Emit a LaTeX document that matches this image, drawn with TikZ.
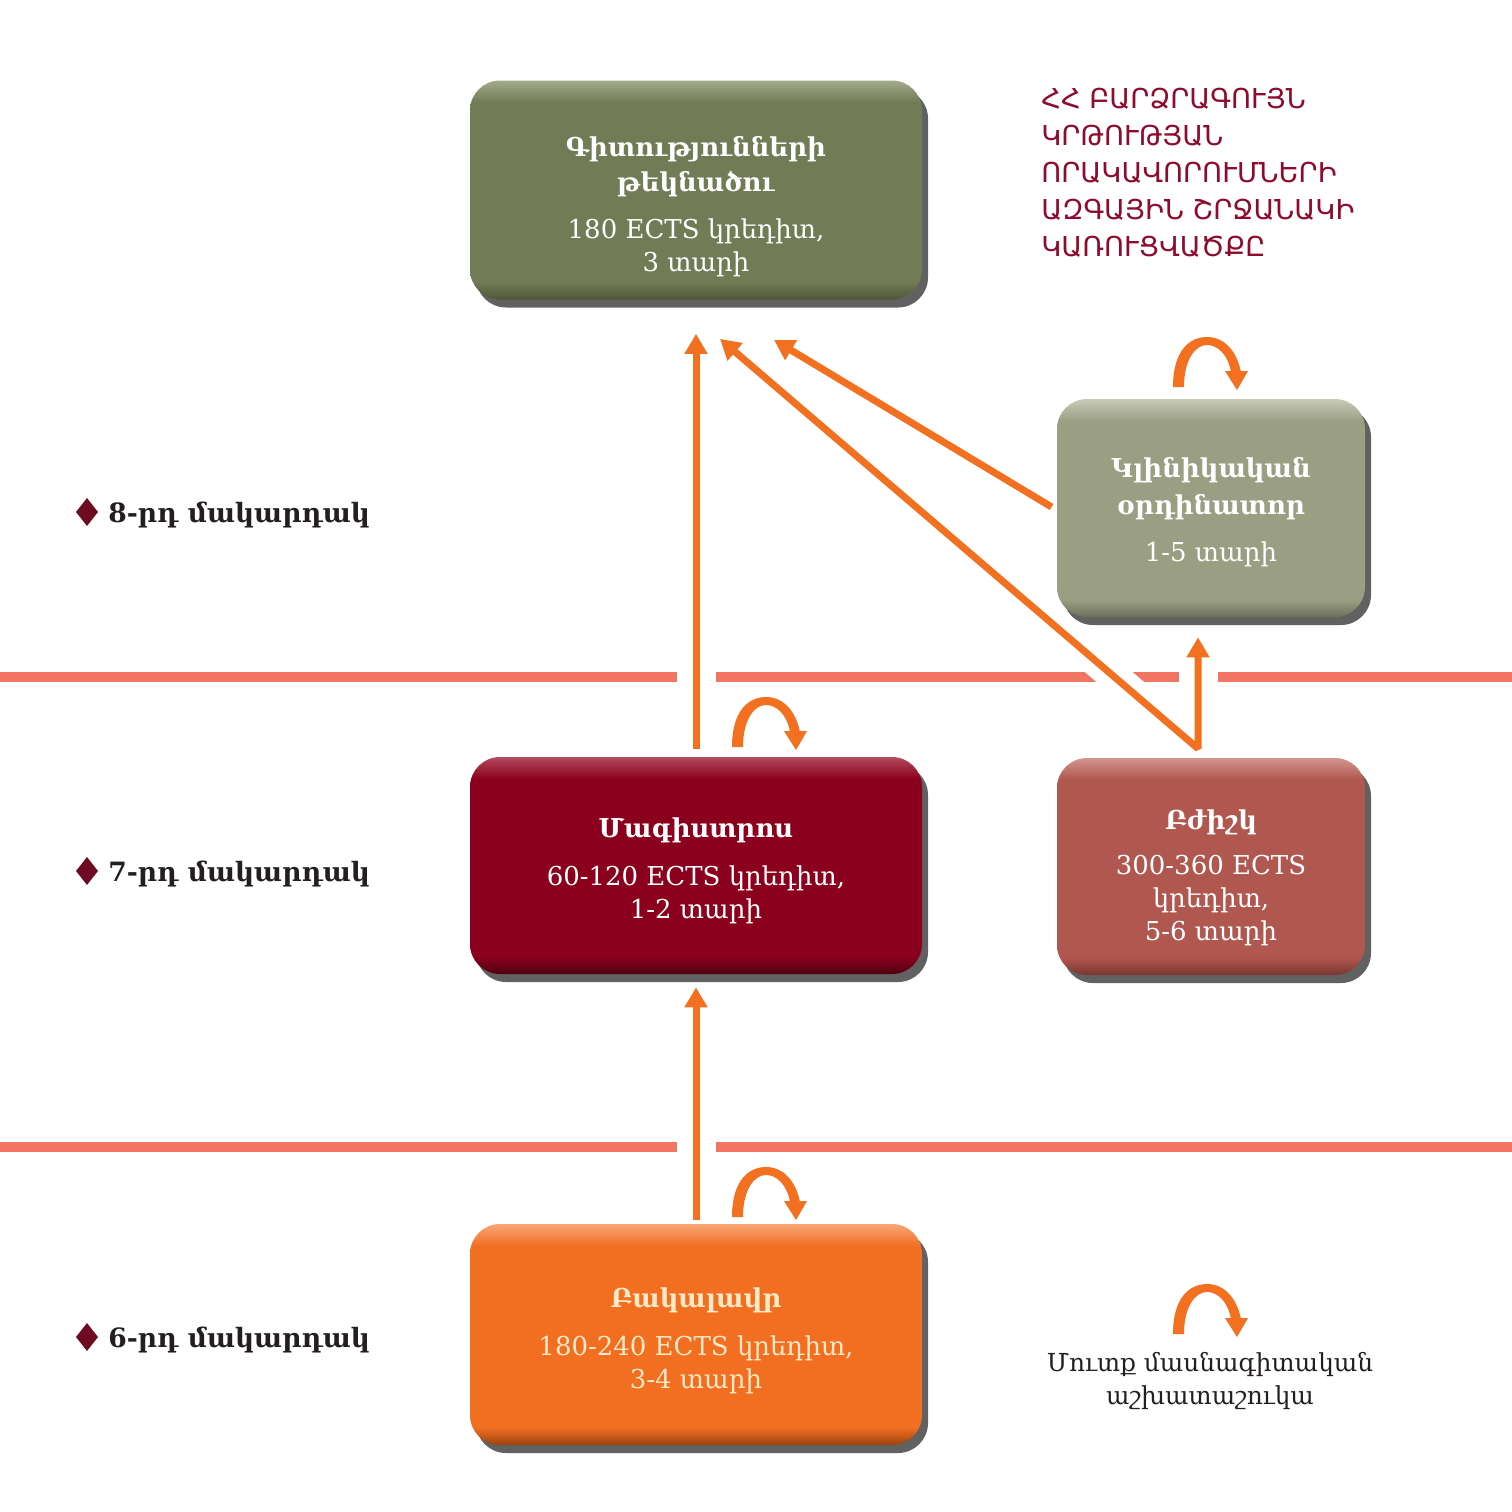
\documentclass[tikz,border=0pt]{standalone}
\usepackage{fontspec}
\setmainfont{DejaVu Serif}
\newfontfamily\hdrfont{DejaVu Sans}
\usetikzlibrary{arrows.meta,shadows}
\definecolor{arrorange}{HTML}{F37021}
\definecolor{lineclr}{HTML}{F27462}
\definecolor{gBase}{HTML}{717B56}\definecolor{gLight}{HTML}{A3AA8A}\definecolor{gDark}{HTML}{4E5637}
\definecolor{cBase}{HTML}{9A9F84}\definecolor{cLight}{HTML}{C8CBB8}\definecolor{cDark}{HTML}{6C705B}
\definecolor{mBase}{HTML}{8B001D}\definecolor{mLight}{HTML}{B24A60}\definecolor{mDark}{HTML}{4F0011}
\definecolor{dBase}{HTML}{B05750}\definecolor{dLight}{HTML}{D2948E}\definecolor{dDark}{HTML}{7A3530}
\definecolor{bBase}{HTML}{F26F22}\definecolor{bLight}{HTML}{F8A676}\definecolor{bDark}{HTML}{9A4210}
\definecolor{hdrclr}{HTML}{8E0B2D}
\definecolor{txtdark}{HTML}{231F20}
\definecolor{diaclr}{HTML}{6E0B22}
\definecolor{creamtxt}{HTML}{FFE9C6}
\newcommand\mkbevel[4]{\pgfdeclareverticalshading{#1}{100bp}{color(0bp)=(#4); color(25bp)=(#4); color(29bp)=(#3); color(70bp)=(#3); color(75bp)=(#2); color(100bp)=(#2)}}
\mkbevel{gbevel}{gLight}{gBase}{gDark}
\mkbevel{cbevel}{cLight}{cBase}{cDark}
\mkbevel{mbevel}{mLight}{mBase}{mDark}
\mkbevel{dbevel}{dLight}{dBase}{dDark}
\mkbevel{bbevel}{bLight}{bBase}{bDark}
\pgfdeclarelayer{bg}
\pgfsetlayers{bg,main}
\begin{document}
\begin{tikzpicture}[x=0.5pt,y=-0.5pt,
  box/.style={rounded corners=15pt, inner sep=0pt, shade,
    general shadow={fill=black!62, shadow xshift=3pt, shadow yshift=-4pt}},
  boxtext/.style={align=center, text=white, inner sep=0pt, font=\fontsize{13}{16.5}\selectfont},
  divline/.style={draw=lineclr, line width=5.25pt},
  knock/.style={draw=white, line width=19.5pt},
  arr/.style={draw=arrorange, line width=3.5pt, -{Triangle[length=10pt,width=11pt]}},
  lvl/.style={anchor=base west, text=txtdark, inner sep=0pt, font=\fontsize{13.3}{16}\selectfont\bfseries},
  dia/.style={fill=diaclr},
  turnarc/.pic={
    \fill[arrorange] (-34,50) .. controls (-34,13) and (-17,0) .. (0,0)
      .. controls (18,0) and (30,15) .. (34,35) -- (24,35)
      .. controls (21,18) and (11,8) .. (0,8)
      .. controls (-12,8) and (-23,23) .. (-23,50) -- cycle;
    \fill[arrorange] (18,34) -- (41,34) -- (30,53) -- cycle;
  }]
\useasboundingbox (0,0) rectangle (1512,1512);

% boxes
\node[box, shading=gbevel, minimum width=226pt, minimum height=109.5pt] (top) at (696,190) {};
\node[box, shading=cbevel, minimum width=154pt, minimum height=109pt] (clin) at (1211,508) {};
\node[box, shading=mbevel, minimum width=226pt, minimum height=108.5pt] (mag) at (696,865.5) {};
\node[box, shading=dbevel, minimum width=154pt, minimum height=108.5pt] (doc) at (1211,866.5) {};
\node[box, shading=bbevel, minimum width=226pt, minimum height=110.5pt] (bak) at (696,1334.5) {};

% box texts
\node[boxtext] (toptxt) at ([shift={(0,17)}]top.center)
  {\textbf{Գիտությունների}\\[1pt]\textbf{թեկնածու}\\[7pt]180 ECTS կրեդիտ,\\3 տարի};
\node[boxtext] (clintxt) at ([shift={(0,4)}]clin.center)
  {\textbf{Կլինիկական}\\[2pt]\textbf{օրդինատոր}\\[7pt]1-5 տարի};
\node[boxtext] (magtxt) at ([shift={(0,5)}]mag.center)
  {\textbf{Մագիստրոս}\\[7.5pt]60-120 ECTS կրեդիտ,\\1-2 տարի};
\node[boxtext] (doctxt) at ([shift={(0,11)}]doc.center)
  {\textbf{Բժիշկ}\\[6pt]300-360 ECTS\\կրեդիտ,\\5-6 տարի};
\node[boxtext, text=creamtxt] (baktxt) at ([shift={(0,6)}]bak.center)
  {\textbf{Բակալավր}\\[7.5pt]180-240 ECTS կրեդիտ,\\3-4 տարի};

\coordinate (dj) at ([shift={(-13,-9)}]doc.north);
\coordinate (topdiag) at ([shift={(24,39)}]top.south);
\coordinate (clinin) at ([shift={(-13,20)}]clin.south);

% divider lines with knock-outs
\begin{pgfonlayer}{bg}
\draw[divline] (0,677) -- (1512,677);
\draw[divline] (0,1147) -- (1512,1147);
\draw[knock] (mag.north) -- (top.south);
\draw[knock] (bak.north) -- (mag.south);
\draw[knock] (dj) -- (clinin);
\draw[knock, line width=15.5pt] (dj) -- (topdiag);
\end{pgfonlayer}

% arrows
\draw[arr, shorten <=4pt, shorten >=17pt] (mag.north) -- (top.south);
\draw[arr, shorten <=2pt, shorten >=6.5pt] (bak.north) -- (mag.south);
\draw[arr] ([shift={(-5,-1)}]clin.west) -- ([shift={(78,40)}]top.south);
\draw[draw=arrorange, line width=3.5pt, line join=bevel,
  {Triangle[length=10pt,width=11pt]}-{Triangle[length=10pt,width=11pt]}] (topdiag) -- (dj) -- (clinin);

% turning arrows
\pic (t1) at (1207,337) {turnarc};
\pic (t2) at (766,697) {turnarc};
\pic (t3) at (766,1167) {turnarc};
\pic (t4) at (1207,1284) {turnarc};

% level labels
\fill[dia] (87,498) -- (98,512) -- (87,526) -- (76,512) -- cycle;
\node[lvl] (l8) at (108,522) {8-րդ մակարդակ};
\fill[dia] (87,857) -- (98,871) -- (87,885) -- (76,871) -- cycle;
\node[lvl] (l7) at (108,881) {7-րդ մակարդակ};
\fill[dia] (87,1323) -- (98,1337) -- (87,1351) -- (76,1337) -- cycle;
\node[lvl] (l6) at (108,1347) {6-րդ մակարդակ};

% header
\node[anchor=north west, align=left, text=hdrclr, inner sep=0pt,
  font=\hdrfont\fontsize{13.7}{18.5}\selectfont] (hdr) at (1041,88)
  {ՀՀ ԲԱՐՁՐԱԳՈՒՅՆ\\ԿՐԹՈՒԹՅԱՆ\\ՈՐԱԿԱՎՈՐՈՒՄՆԵՐԻ\\ԱԶԳԱՅԻՆ ՇՐՋԱՆԱԿԻ\\ԿԱՌՈՒՑՎԱԾՔԸ};

% legend
\node[align=center, text=txtdark, inner sep=0pt, font=\fontsize{12.4}{16.5}\selectfont] (leg) at (1210,1381)
  {Մուտք մասնագիտական\\աշխատաշուկա};
\end{tikzpicture}
\end{document}
